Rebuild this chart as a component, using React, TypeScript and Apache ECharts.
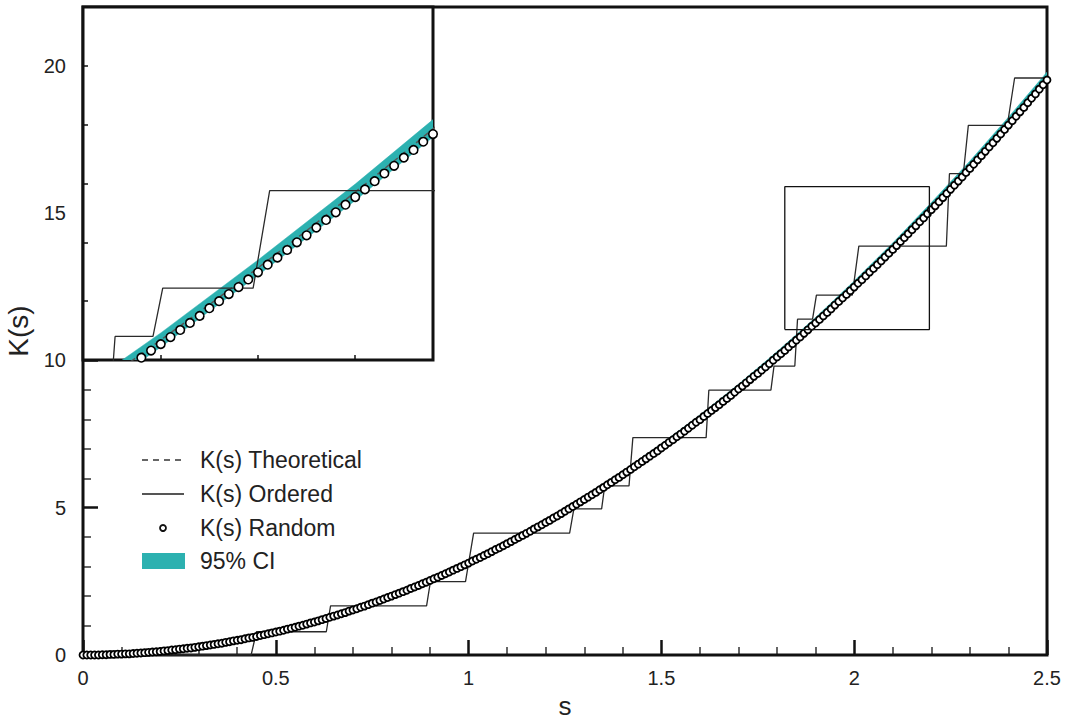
import React, { useEffect, useRef } from "react";
import * as echarts from "echarts";

// ---------- data ----------
const THEORY_S = [0, 0.1, 0.2, 0.3, 0.4, 0.5, 0.6, 0.7, 0.8, 0.9, 1.0, 1.1, 1.2, 1.3, 1.4, 1.5, 1.6, 1.7, 1.8, 1.9, 2.0, 2.1, 2.2, 2.3, 2.4, 2.5];
const THEORY_K = [0, 0.0314, 0.1257, 0.2827, 0.5027, 0.7854, 1.131, 1.5394, 2.0106, 2.5447, 3.1416, 3.8013, 4.5239, 5.3093, 6.1575, 7.0686, 8.0425, 9.0792, 10.1788, 11.3411, 12.5664, 13.8544, 15.2053, 16.619, 18.0956, 19.635];
const CI_UPPER = [0, 0.04, 0.15, 0.31, 0.53, 0.83, 1.18, 1.59, 2.07, 2.6, 3.21, 3.88, 4.6, 5.4, 6.25, 7.17, 8.15, 9.19, 10.3, 11.46, 12.7, 13.99, 15.36, 16.77, 18.26, 19.79];
const CI_LOWER = [0, 0.02, 0.11, 0.25, 0.47, 0.75, 1.08, 1.49, 1.95, 2.48, 3.07, 3.72, 4.44, 5.22, 6.07, 6.97, 7.93, 8.97, 10.06, 11.22, 12.44, 13.71, 15.06, 16.47, 17.94, 19.47];

const ORDERED_S = [0, 0.436, 0.45, 0.631, 0.642, 0.891, 0.901, 0.992, 1.013, 1.262, 1.273, 1.345, 1.353, 1.416, 1.426, 1.616, 1.623, 1.784, 1.792, 1.846, 1.853, 1.892, 1.902, 1.995, 2.012, 2.239, 2.247, 2.283, 2.296, 2.397, 2.416, 2.5];
const ORDERED_K = [0, 0, 0.79, 0.79, 1.67, 1.67, 2.49, 2.49, 4.14, 4.14, 4.96, 4.96, 5.74, 5.74, 7.38, 7.38, 8.99, 8.99, 9.81, 9.81, 11.4, 11.4, 12.22, 12.22, 13.88, 13.88, 16.34, 16.34, 17.98, 17.98, 19.59, 19.59];

const RANDOM_S = [
  0, 0.01, 0.02, 0.03, 0.04, 0.05, 0.06, 0.07, 0.08, 0.09,
  0.1, 0.11, 0.12, 0.13, 0.14, 0.15, 0.16, 0.17, 0.18, 0.19,
  0.2, 0.21, 0.22, 0.23, 0.24, 0.25, 0.26, 0.27, 0.28, 0.29,
  0.3, 0.31, 0.32, 0.33, 0.34, 0.35, 0.36, 0.37, 0.38, 0.39,
  0.4, 0.41, 0.42, 0.43, 0.44, 0.45, 0.46, 0.47, 0.48, 0.49,
  0.5, 0.51, 0.52, 0.53, 0.54, 0.55, 0.56, 0.57, 0.58, 0.59,
  0.6, 0.61, 0.62, 0.63, 0.64, 0.65, 0.66, 0.67, 0.68, 0.69,
  0.7, 0.71, 0.72, 0.73, 0.74, 0.75, 0.76, 0.77, 0.78, 0.79,
  0.8, 0.81, 0.82, 0.83, 0.84, 0.85, 0.86, 0.87, 0.88, 0.89,
  0.9, 0.91, 0.92, 0.93, 0.94, 0.95, 0.96, 0.97, 0.98, 0.99,
  1.0, 1.01, 1.02, 1.03, 1.04, 1.05, 1.06, 1.07, 1.08, 1.09,
  1.1, 1.11, 1.12, 1.13, 1.14, 1.15, 1.16, 1.17, 1.18, 1.19,
  1.2, 1.21, 1.22, 1.23, 1.24, 1.25, 1.26, 1.27, 1.28, 1.29,
  1.3, 1.31, 1.32, 1.33, 1.34, 1.35, 1.36, 1.37, 1.38, 1.39,
  1.4, 1.41, 1.42, 1.43, 1.44, 1.45, 1.46, 1.47, 1.48, 1.49,
  1.5, 1.51, 1.52, 1.53, 1.54, 1.55, 1.56, 1.57, 1.58, 1.59,
  1.6, 1.61, 1.62, 1.63, 1.64, 1.65, 1.66, 1.67, 1.68, 1.69,
  1.7, 1.71, 1.72, 1.73, 1.74, 1.75, 1.76, 1.77, 1.78, 1.79,
  1.8, 1.81, 1.82, 1.83, 1.84, 1.85, 1.86, 1.87, 1.88, 1.89,
  1.9, 1.91, 1.92, 1.93, 1.94, 1.95, 1.96, 1.97, 1.98, 1.99,
  2.0, 2.01, 2.02, 2.03, 2.04, 2.05, 2.06, 2.07, 2.08, 2.09,
  2.1, 2.11, 2.12, 2.13, 2.14, 2.15, 2.16, 2.17, 2.18, 2.19,
  2.2, 2.21, 2.22, 2.23, 2.24, 2.25, 2.26, 2.27, 2.28, 2.29,
  2.3, 2.31, 2.32, 2.33, 2.34, 2.35, 2.36, 2.37, 2.38, 2.39,
  2.4, 2.41, 2.42, 2.43, 2.44, 2.45, 2.46, 2.47, 2.48, 2.49,
  2.5,
];
const RANDOM_K = [
  0, 0.0, 0.0, 0.0, 0.0, 0.01, 0.01, 0.02, 0.02, 0.03,
  0.03, 0.04, 0.04, 0.05, 0.06, 0.07, 0.08, 0.09, 0.1, 0.11,
  0.12, 0.14, 0.15, 0.17, 0.18, 0.2, 0.21, 0.23, 0.24, 0.26,
  0.28, 0.3, 0.32, 0.34, 0.36, 0.38, 0.4, 0.43, 0.45, 0.48,
  0.5, 0.52, 0.55, 0.58, 0.6, 0.63, 0.66, 0.69, 0.72, 0.75,
  0.78, 0.81, 0.84, 0.88, 0.91, 0.94, 0.98, 1.01, 1.05, 1.09,
  1.12, 1.16, 1.2, 1.24, 1.28, 1.32, 1.36, 1.4, 1.44, 1.49,
  1.53, 1.57, 1.62, 1.66, 1.71, 1.76, 1.8, 1.85, 1.9, 1.95,
  2.0, 2.05, 2.1, 2.15, 2.2, 2.26, 2.31, 2.36, 2.42, 2.47,
  2.53, 2.59, 2.64, 2.7, 2.76, 2.82, 2.88, 2.94, 3.0, 3.06,
  3.12, 3.19, 3.25, 3.31, 3.38, 3.44, 3.51, 3.58, 3.64, 3.71,
  3.78, 3.85, 3.92, 3.99, 4.06, 4.13, 4.2, 4.28, 4.35, 4.42,
  4.5, 4.57, 4.65, 4.72, 4.8, 4.88, 4.96, 5.04, 5.12, 5.2,
  5.28, 5.36, 5.44, 5.52, 5.61, 5.69, 5.78, 5.86, 5.95, 6.03,
  6.12, 6.21, 6.3, 6.39, 6.48, 6.57, 6.66, 6.75, 6.84, 6.93,
  7.03, 7.12, 7.22, 7.31, 7.41, 7.5, 7.6, 7.7, 7.8, 7.9,
  7.99, 8.1, 8.2, 8.3, 8.4, 8.5, 8.61, 8.71, 8.81, 8.92,
  9.03, 9.13, 9.24, 9.35, 9.46, 9.56, 9.67, 9.78, 9.89, 10.01,
  10.12, 10.23, 10.34, 10.46, 10.57, 10.69, 10.8, 10.92, 11.04, 11.16,
  11.27, 11.39, 11.51, 11.63, 11.75, 11.88, 12.0, 12.12, 12.24, 12.37,
  12.49, 12.62, 12.74, 12.87, 13.0, 13.12, 13.25, 13.38, 13.51, 13.64,
  13.77, 13.9, 14.04, 14.17, 14.3, 14.44, 14.57, 14.71, 14.84, 14.98,
  15.12, 15.25, 15.39, 15.53, 15.67, 15.81, 15.95, 16.09, 16.23, 16.38,
  16.52, 16.66, 16.81, 16.95, 17.1, 17.25, 17.39, 17.54, 17.69, 17.84,
  17.99, 18.14, 18.29, 18.44, 18.59, 18.75, 18.9, 19.05, 19.21, 19.36,
  19.52,
];

// zoom window drawn on the main plot (data coordinates)
const ZOOM_BOX_S = [1.82, 2.195, 2.195, 1.82, 1.82];
const ZOOM_BOX_K = [11.05, 11.05, 15.9, 15.9, 11.05];

const X_TICKS = [0, 0.5, 1, 1.5, 2, 2.5];
const Y_TICKS = [0, 5, 10, 15, 20];
const INSET_X_TICKS = [1.9, 2.0, 2.1];

const LEGEND_LABELS = ["K(s) Theoretical", "K(s) Ordered", "K(s) Random", "95% CI"];

const TEAL = "#2cb1b0";
const FONT = "'Liberation Sans', Arial, Helvetica, sans-serif";

const zip = (xs: number[], ys: number[]) => xs.map((x, i) => [x, ys[i]]);

export default function App() {
  const ref = useRef<HTMLDivElement>(null);
  useEffect(() => {
    if (!ref.current) return;
    const chart = echarts.init(ref.current, undefined, { renderer: "svg" });

    const bandSeries = (g: number, z: number) => ({
      type: "custom", xAxisIndex: g, yAxisIndex: g, clip: true, silent: true, z,
      data: [[THEORY_S[0], CI_LOWER[0]]],
      renderItem: (_params: any, api: any) => {
        const pts: number[][] = [];
        THEORY_S.forEach((s, i) => pts.push(api.coord([s, CI_UPPER[i]])));
        for (let i = THEORY_S.length - 1; i >= 0; i--) pts.push(api.coord([THEORY_S[i], CI_LOWER[i]]));
        return { type: "polygon", shape: { points: pts }, style: { fill: TEAL, stroke: TEAL, lineWidth: 0.5 } };
      },
    });

    const seriesFor = (g: number, base: number, symSize: number, bw: number) => [
      bandSeries(g, base),
      {
        type: "line", xAxisIndex: g, yAxisIndex: g,
        data: zip(THEORY_S, THEORY_K), smooth: true, showSymbol: false, symbol: "none",
        lineStyle: { color: "#555", width: 1.5, type: [6, 4] }, z: base + 1, silent: true,
      },
      {
        type: "line", xAxisIndex: g, yAxisIndex: g,
        data: zip(ORDERED_S, ORDERED_K), showSymbol: false, symbol: "none",
        lineStyle: { color: "#2a2a2a", width: 1.3 }, z: base + 2, silent: true,
      },
      {
        type: "scatter", xAxisIndex: g, yAxisIndex: g,
        data: zip(RANDOM_S, RANDOM_K), symbol: "circle", symbolSize: symSize,
        itemStyle: { color: "#fff", borderColor: "#000", borderWidth: bw, opacity: 1 }, z: base + 3, silent: true,
      },
    ];

    const option: any = {
      animation: false,
      backgroundColor: "#fff",
      textStyle: { fontFamily: FONT },
      grid: [
        { left: 83, top: 7, right: 19, bottom: 67, show: true, borderColor: "#111", borderWidth: 3, backgroundColor: "transparent", z: 1, containLabel: false, outerBoundsMode: "none" },
        { left: 83, top: 7, width: 350, height: 353, show: true, borderColor: "#111", borderWidth: 3, backgroundColor: "#fff", z: 10, containLabel: false, outerBoundsMode: "none" },
      ],
      xAxis: [
        {
          type: "value", gridIndex: 0, min: 0, max: 2.5, interval: 0.5,
          axisLine: { show: false },
          axisTick: { show: true, inside: true, length: 15, lineStyle: { color: "#111", width: 2.5 } },
          minorTick: { show: true, splitNumber: 5, length: 8, lineStyle: { color: "#333", width: 1.5 } },
          splitLine: { show: false }, minorSplitLine: { show: false },
          axisLabel: { fontSize: 20, color: "#222", margin: 13, fontFamily: FONT, customValues: X_TICKS, formatter: (v: number) => String(v) },
          name: "s", nameLocation: "middle", nameGap: 37,
          nameTextStyle: { fontSize: 26, color: "#222", fontFamily: FONT },
          z: 0,
        },
        {
          type: "value", gridIndex: 1, min: 1.82, max: 2.18,
          axisLine: { show: false },
          axisTick: { show: true, inside: true, length: 5, customValues: INSET_X_TICKS, lineStyle: { color: "#111", width: 1.5 } },
          axisLabel: { show: false }, splitLine: { show: false },
          z: 12,
        },
      ],
      yAxis: [
        {
          type: "value", gridIndex: 0, min: 0, max: 22, interval: 5,
          axisLine: { show: false },
          axisTick: { show: true, inside: true, length: 15, lineStyle: { color: "#111", width: 2.5 } },
          minorTick: { show: true, splitNumber: 5, length: 8, lineStyle: { color: "#333", width: 1.5 } },
          splitLine: { show: false }, minorSplitLine: { show: false },
          axisLabel: { fontSize: 20, color: "#222", margin: 17, fontFamily: FONT, customValues: Y_TICKS },
          name: "K(s)", nameLocation: "middle", nameGap: 50,
          nameTextStyle: { fontSize: 28, color: "#222", fontFamily: FONT },
          z: 0,
        },
        {
          type: "value", gridIndex: 1, min: 11, max: 17, interval: 1,
          axisLine: { show: false },
          axisTick: { show: true, inside: true, length: 5, lineStyle: { color: "#111", width: 1.5 } },
          axisLabel: { show: false }, splitLine: { show: false },
          z: 12,
        },
      ],
      series: [
        ...seriesFor(0, 2, 7, 1.8),
        {
          type: "line", xAxisIndex: 0, yAxisIndex: 0, data: zip(ZOOM_BOX_S, ZOOM_BOX_K),
          showSymbol: false, symbol: "none", lineStyle: { color: "#111", width: 1.3 }, z: 6, silent: true,
        },
        ...seriesFor(1, 11, 8.5, 1.6),
      ],
      graphic: [
        { type: "line", shape: { x1: 142, y1: 460, x2: 184, y2: 460 }, style: { stroke: "#666", lineWidth: 2, lineDash: [6, 5] }, z: 20 },
        { type: "line", shape: { x1: 142, y1: 494, x2: 184, y2: 494 }, style: { stroke: "#555", lineWidth: 2 }, z: 20 },
        { type: "circle", shape: { cx: 163, cy: 528, r: 3 }, style: { fill: "#fff", stroke: "#111", lineWidth: 1.8 }, z: 20 },
        { type: "rect", shape: { x: 142, y: 553, width: 43, height: 16 }, style: { fill: TEAL }, z: 20 },
        ...LEGEND_LABELS.map((t, i) => ({
          type: "text", x: 200, y: [460, 494, 528, 561][i], z: 20,
          style: { text: t, fill: "#222", font: `23px ${FONT}`, verticalAlign: "middle", align: "left" },
        })),
      ],
    };
    chart.setOption(option);
    return () => chart.dispose();
  }, []);
  return (
    <div
      ref={ref}
      style={{ position: "fixed", left: 0, top: 0, width: 1066, height: 722, background: "#fff" }}
    />
  );
}
